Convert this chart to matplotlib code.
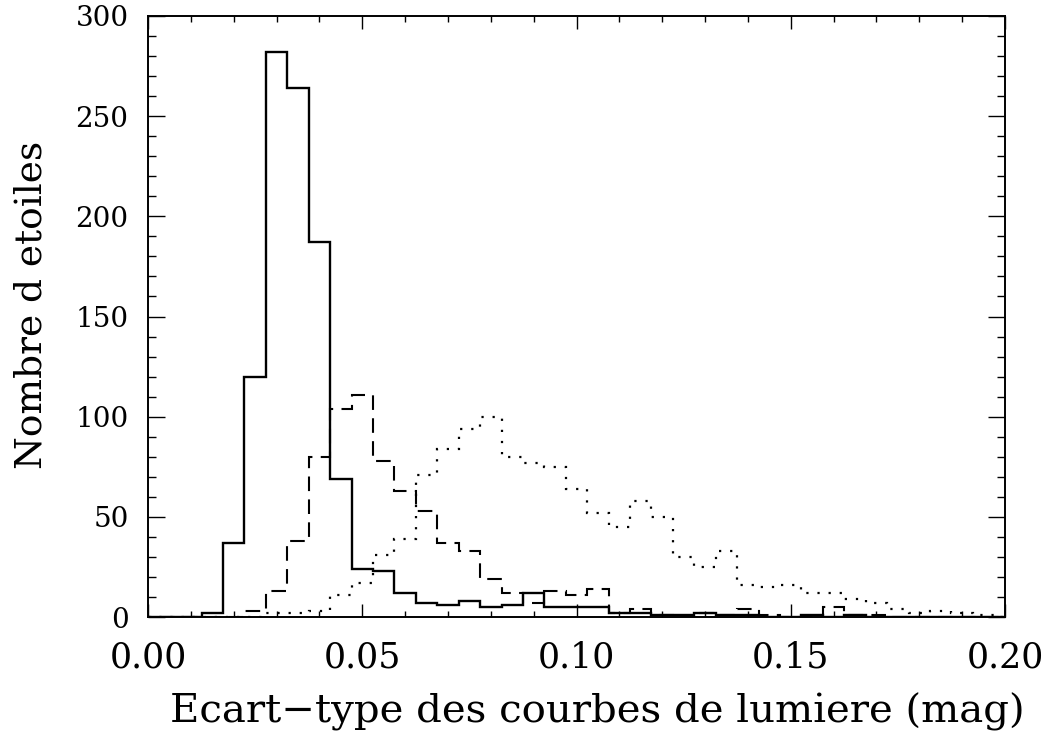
import numpy as np
import matplotlib
matplotlib.use("Agg")
import matplotlib.pyplot as plt
from matplotlib.ticker import MultipleLocator, FixedLocator, FixedFormatter

# Histogram grid: bins of 0.005 mag centred on multiples of 0.005
bin_width = 0.005
bin_centers = np.round(np.arange(0.0, 0.2001, bin_width), 3)

# Number of stars per bin for the three samples
counts_solid = [0, 0, 0, 2, 37, 120, 282, 264, 187, 69,
                24, 23, 12, 7, 6, 8, 5, 6, 12, 5,
                5, 5, 2, 2, 1, 1, 2, 1, 1, 0,
                0, 1, 0, 1, 0, 0, 0, 0, 0, 0, 0]
counts_dashed = [0, 0, 0, 0, 0, 3, 13, 38, 80, 104,
                 111, 78, 63, 53, 37, 33, 19, 12, 7, 13,
                 11, 14, 2, 4, 1, 0, 2, 1, 4, 1,
                 0, 0, 5, 1, 1, 0, 0, 0, 0, 0, 0]
counts_dotted = [0, 0, 0, 0, 0, 0, 2, 2, 3, 11,
                 17, 31, 39, 71, 84, 94, 100, 80, 77, 75,
                 64, 52, 45, 58, 50, 30, 25, 33, 16, 15,
                 16, 12, 12, 9, 7, 4, 2, 3, 2, 1, 0]

x_ticks = [0.00, 0.05, 0.10, 0.15, 0.20]
x_tick_labels = ["0.00", "0.05", "0.10", "0.15", "0.20"]
y_ticks = [0, 50, 100, 150, 200, 250, 300]
y_tick_labels = ["0", "50", "100", "150", "200", "250", "300"]

x_label = "Ecart\u2212type des courbes de lumiere (mag)"
y_label = "Nombre d etoiles"

edges = np.append(bin_centers - bin_width / 2, bin_centers[-1] + bin_width / 2)

W, H = 1051, 734
fig = plt.figure(figsize=(W / 100, H / 100), dpi=100)
ax = fig.add_axes([148 / W, 1 - 617 / H, (1005 - 148) / W, (617 - 16) / H])

ax.stairs(counts_solid, edges, baseline=None, color="black", lw=1.7,
          linestyle="-")
ax.stairs(counts_dashed, edges, baseline=None, color="black", lw=1.5,
          linestyle=(0, (7, 4)))
ax.stairs(counts_dotted, edges, baseline=None, color="black", lw=1.6,
          linestyle=(0, (1, 4)))

ax.set_xlim(0.0, 0.2)
ax.set_ylim(0, 300)

ax.xaxis.set_major_locator(FixedLocator(x_ticks))
ax.xaxis.set_major_formatter(FixedFormatter(x_tick_labels))
ax.xaxis.set_minor_locator(MultipleLocator(0.01))
ax.yaxis.set_major_locator(FixedLocator(y_ticks))
ax.yaxis.set_major_formatter(FixedFormatter(y_tick_labels))
ax.yaxis.set_minor_locator(MultipleLocator(10))

ax.tick_params(which="both", direction="in", top=True, right=True,
               color="black", width=1.0)
ax.tick_params(axis="y", which="major", length=12, pad=14)
ax.tick_params(axis="y", which="minor", length=5.5)
ax.tick_params(axis="x", which="major", length=9.5, pad=17)
ax.tick_params(axis="x", which="minor", length=4)

for lab in ax.get_xticklabels():
    lab.set_fontfamily("DejaVu Serif")
    lab.set_fontsize(25)
for lab in ax.get_yticklabels():
    lab.set_fontfamily("DejaVu Serif")
    lab.set_fontsize(20)

for sp in ax.spines.values():
    sp.set_linewidth(1.4)

ax.set_xlabel(x_label, fontsize=29, family="DejaVu Serif")
ax.set_ylabel(y_label, fontsize=27, family="DejaVu Serif")
ax.xaxis.set_label_coords(0.524, -0.125)
ax.yaxis.set_label_coords(-0.115, 0.52)

fig.savefig("out.png", dpi=100, facecolor="white")
